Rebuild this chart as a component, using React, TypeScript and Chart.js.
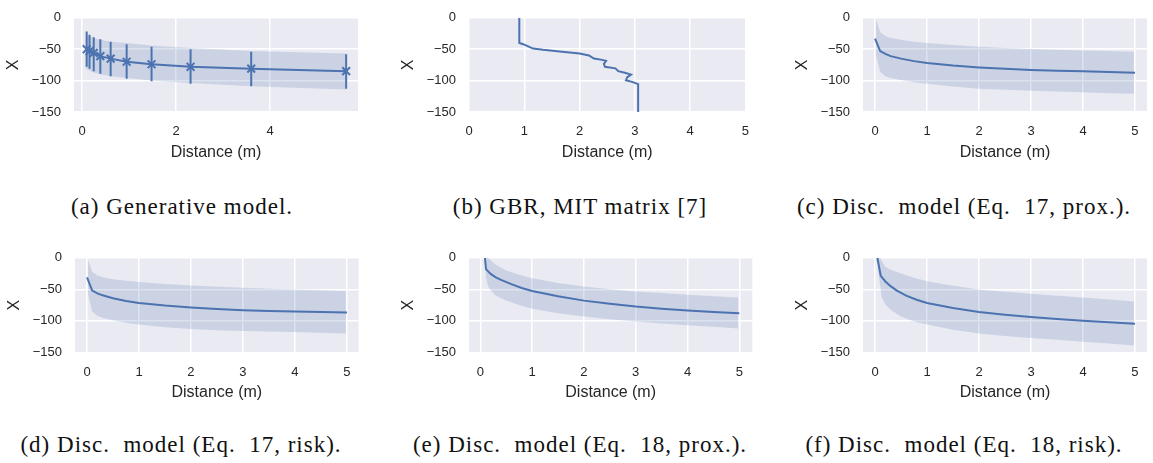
import React, { useEffect, useRef } from 'react';
import { Chart, registerables } from 'chart.js';

Chart.register(...registerables);

// ---------------- data ----------------
const yTickValues = [0, -50, -100, -150];
const xTicksA = [0, 2, 4];
const xTicks05 = [0, 1, 2, 3, 4, 5];

// (a) Generative model
const aX = [0.1, 0.16, 0.25, 0.39, 0.61, 0.95, 1.48, 2.31, 3.6, 5.62];
const aMean = [-50, -53, -56, -61, -65, -70, -74, -78, -81, -85];
const aErrLow = [-78, -81, -85, -89, -93, -97, -101, -105, -109, -113];
const aErrHigh = [-22, -27, -31, -34, -38, -42, -46, -50, -54, -58];
const aBandX = [0.07, 0.1, 0.16, 0.25, 0.39, 0.61, 0.95, 1.48, 2.31, 3.6, 5.62];
const aBandHigh = [-24, -26, -29, -32, -35, -38, -40, -44, -48, -53, -57];
const aBandLow = [-79, -81, -84, -87, -90, -93, -96, -100, -104, -109, -114];

// (b) GBR, MIT matrix
const bX = [0.91, 0.91, 0.98, 1.16, 1.34, 1.64, 2.0, 2.17, 2.26, 2.41, 2.48, 2.44, 2.46, 2.65, 2.7, 2.82, 2.93, 2.86, 2.84, 2.95, 3.06, 3.06];
const bY = [0, -40, -42, -49, -51, -53.5, -56.7, -60, -64.8, -67, -68.6, -73.3, -78, -80.5, -85, -87.6, -90.5, -94.8, -99.5, -102, -105.7, -150];

// (c) Disc. model (Eq. 17, prox.)
const cX = [0, 0.1, 0.2, 0.3, 0.5, 0.75, 1, 1.5, 2, 2.5, 3, 3.5, 4, 4.5, 5];
const cMean = [-33, -53, -57.5, -61, -65, -69, -72, -76, -79, -81.2, -83, -84.2, -85.3, -86.5, -87.5];
const cBandX = [0.02, 0.1, 0.2, 0.3, 0.5, 0.75, 1, 1.5, 2, 2.5, 3, 3.5, 4, 4.5, 4.98];
const cBandHigh = [-2, -23, -29, -32, -35, -38, -40, -43.5, -46, -48, -49.5, -51, -52, -53, -54];
const cBandLow = [-60, -86, -93, -96, -99, -102.5, -105, -109.5, -113, -114.5, -116, -117.5, -118.6, -120, -121];

// (d) Disc. model (Eq. 17, risk)
const dX = [0, 0.1, 0.2, 0.3, 0.5, 0.75, 1, 1.5, 2, 2.5, 3, 3.5, 4, 4.5, 5];
const dMean = [-31, -52, -56.5, -59.5, -64, -68.5, -71.7, -75.8, -78.8, -81, -83, -84.2, -85, -86, -86.9];
const dBandX = [0.02, 0.1, 0.2, 0.3, 0.5, 0.75, 1, 1.5, 2, 2.5, 3, 3.5, 4, 4.5, 4.98];
const dBandHigh = [-3, -22, -28, -31, -34, -36.5, -38.4, -41.5, -44, -46, -47.5, -49, -50.3, -51.5, -52.7];
const dBandLow = [-58, -85, -92, -95, -99, -103, -105.8, -110, -113, -114.7, -116, -117, -117.7, -119, -120];

// (e) Disc. model (Eq. 18, prox.)
const eX = [0.09, 0.11, 0.2, 0.3, 0.4, 0.6, 0.8, 1, 1.5, 2, 2.5, 3, 3.5, 4, 4.5, 5];
const eMean = [0, -18, -25.5, -31, -35, -41.8, -47.8, -52.7, -61, -67.9, -73, -77.4, -80.7, -83.5, -85.8, -87.8];
const eBandX = [0.1, 0.15, 0.2, 0.3, 0.5, 0.75, 1, 1.5, 2, 2.5, 3, 3.5, 4, 4.5, 4.98];
const eBandHigh = [5, 0, -4, -11, -20, -27, -32.3, -40, -45.6, -50, -53.6, -56, -58.4, -61, -63];
const eBandLow = [-28, -45, -51, -60, -67.9, -75, -80.7, -88, -93, -97.5, -101, -104, -107, -109.5, -112];

// (f) Disc. model (Eq. 18, risk)
const fX = [0.045, 0.11, 0.2, 0.3, 0.42, 0.6, 0.8, 1, 1.5, 2, 2.5, 3, 3.5, 4, 4.5, 5];
const fMean = [0, -28.5, -37.5, -45, -52, -60, -66.5, -71.7, -79.5, -85.9, -90.3, -94, -97, -99.7, -102.2, -104.4];
const fBandX = [0.05, 0.08, 0.13, 0.2, 0.3, 0.5, 0.75, 1, 1.5, 2, 2.5, 3, 3.5, 4, 4.5, 4.98];
const fBandHigh = [10, 2, -5, -14, -19, -25, -31.5, -37, -44.5, -50.3, -54, -57, -60, -63, -66, -69.3];
const fBandLow = [-15, -32, -63, -74, -82.5, -93, -101, -105.8, -114, -120, -124, -127, -130, -133, -136, -139];

const captions = [
  '(a) Generative model.',
  '(b) GBR, MIT matrix [7]',
  '(c) Disc.  model (Eq.  17, prox.).',
  '(d) Disc.  model (Eq.  17, risk).',
  '(e) Disc.  model (Eq.  18, prox.).',
  '(f) Disc.  model (Eq.  18, risk).',
];

// ---------------- styles ----------------
const BLUE = '#4C72B0';
const BAND = 'rgba(76,114,176,0.2)';
const BG = '#EAEAF2';
const TEXT = '#262626';
const SANS = '"Liberation Sans", Arial, sans-serif';
const SERIF = '"Liberation Serif", "Times New Roman", serif';

const PAD_L = 70;
const PAD_T = 10;
const PAD_R = 12;
const AX_H = 50;

const pts = (xs: number[], ys: (number | null)[]) => xs.map((x, i) => ({ x, y: ys[i] }));

const lineDs = (xs: number[], ys: number[], extra: any = {}) => ({
  data: pts(xs, ys),
  borderColor: BLUE,
  borderWidth: 2,
  pointRadius: 0,
  fill: false,
  tension: 0,
  ...extra,
});

const bandDs = (xs: number[], hi: number[], lo: number[]) => [
  { data: pts(xs, hi), borderWidth: 0, borderColor: 'rgba(0,0,0,0)', pointRadius: 0, fill: false },
  { data: pts(xs, lo), borderWidth: 0, borderColor: 'rgba(0,0,0,0)', pointRadius: 0, fill: '-1', backgroundColor: BAND },
];

const errorBarDs = (xs: number[], lo: number[], hi: number[]) => ({
  data: xs.flatMap((x, i) => [
    { x, y: lo[i] },
    { x, y: hi[i] },
    { x, y: null },
  ]),
  borderColor: BLUE,
  borderWidth: 2,
  pointRadius: 0,
  fill: false,
  spanGaps: false,
});

type PanelDef = {
  L: number; T: number; R: number; B: number;
  xMin: number; xMax: number; xTicks: number[];
  datasets: () => any[];
  caption: string; cx: number; cy: number;
};

const panels: PanelDef[] = [
  {
    L: 74, T: 7, R: 358, B: 112, xMin: -0.17, xMax: 5.872, xTicks: xTicksA,
    datasets: () => [
      lineDs(aX, aMean, { pointRadius: 5.5, pointStyle: 'crossRot', pointBorderWidth: 2, pointBorderColor: BLUE, pointBackgroundColor: BLUE }),
      errorBarDs(aX, aErrLow, aErrHigh),
      ...bandDs(aBandX, aBandHigh, aBandLow),
    ],
    caption: captions[0], cx: 182, cy: 207,
  },
  {
    L: 468.5, T: 7, R: 748, B: 112, xMin: 0, xMax: 5, xTicks: xTicks05,
    datasets: () => [lineDs(bX, bY)],
    caption: captions[1], cx: 580, cy: 207,
  },
  {
    L: 863, T: 7, R: 1147, B: 112, xMin: -0.231, xMax: 5.231, xTicks: xTicks05,
    datasets: () => [lineDs(cX, cMean), ...bandDs(cBandX, cBandHigh, cBandLow)],
    caption: captions[2], cx: 964, cy: 207,
  },
  {
    L: 74.7, T: 247.3, R: 358.3, B: 352.7, xMin: -0.231, xMax: 5.224, xTicks: xTicks05,
    datasets: () => [lineDs(dX, dMean), ...bandDs(dBandX, dBandHigh, dBandLow)],
    caption: captions[3], cx: 181, cy: 445,
  },
  {
    L: 469, T: 247.3, R: 752.3, B: 352.7, xMin: -0.218, xMax: 5.25, xTicks: xTicks05,
    datasets: () => [lineDs(eX, eMean), ...bandDs(eBandX, eBandHigh, eBandLow)],
    caption: captions[4], cx: 580, cy: 445,
  },
  {
    L: 863, T: 247.3, R: 1147, B: 352.7, xMin: -0.231, xMax: 5.231, xTicks: xTicks05,
    datasets: () => [lineDs(fX, fMean), ...bandDs(fBandX, fBandHigh, fBandLow)],
    caption: captions[5], cx: 964, cy: 445,
  },
];

const bgPlugin = {
  id: 'plotBg',
  beforeDraw(chart: any) {
    const { ctx, chartArea: a } = chart;
    ctx.save();
    ctx.fillStyle = BG;
    ctx.fillRect(a.left, a.top, a.right - a.left, a.bottom - a.top);
    ctx.restore();
  },
};

const fmt = (v: number | string) => String(v).replace('-', '\u2212');

function Panel({ p }: { p: PanelDef }) {
  const ref = useRef<HTMLCanvasElement | null>(null);
  const W = Math.round(PAD_L + (p.R - p.L) + PAD_R);
  const H = Math.round(PAD_T + (p.B - p.T) + AX_H);
  useEffect(() => {
    if (!ref.current) return;
    const chart = new Chart(ref.current, {
      type: 'line',
      data: { datasets: p.datasets() },
      plugins: [bgPlugin],
      options: {
        animation: false,
        responsive: false,
        events: [],
        layout: { padding: { left: 0, top: PAD_T, right: W - PAD_L - (p.R - p.L), bottom: H - PAD_T - (p.B - p.T) - AX_H } },
        plugins: { legend: { display: false }, tooltip: { enabled: false } },
        scales: {
          x: {
            type: 'linear',
            min: p.xMin,
            max: p.xMax,
            afterFit: (s: any) => { s.height = AX_H; },
            afterBuildTicks: (s: any) => { s.ticks = p.xTicks.map((v) => ({ value: v })); },
            grid: { color: '#ffffff', lineWidth: 1.5, drawTicks: false },
            border: { display: false },
            ticks: { padding: 12, color: TEXT, font: { family: SANS, size: 13 }, callback: fmt, maxRotation: 0 },
            title: { display: true, text: 'Distance (m)', color: TEXT, font: { family: SANS, size: 16 }, padding: 0 },
          },
          y: {
            type: 'linear',
            min: -150,
            max: 0,
            afterFit: (s: any) => { s.width = PAD_L; },
            afterBuildTicks: (s: any) => { s.ticks = yTickValues.map((v) => ({ value: v })); },
            grid: { color: '#ffffff', lineWidth: 1.5, drawTicks: false },
            border: { display: false },
            ticks: { padding: 13, color: TEXT, font: { family: SANS, size: 13 }, callback: fmt },
            title: { display: true, text: 'X', color: TEXT, font: { family: SANS, size: 16 }, padding: 0 },
          },
        },
      } as any,
    });
    return () => chart.destroy();
  }, []);
  return (
    <>
      <canvas
        ref={ref}
        width={W}
        height={H}
        style={{ position: 'absolute', left: p.L - PAD_L, top: p.T - PAD_T, width: W, height: H }}
      />
      <div
        style={{
          position: 'absolute',
          left: p.cx,
          top: p.cy - 12,
          transform: 'translateX(-50%)',
          fontFamily: SERIF,
          fontSize: 23,
          lineHeight: '24px',
          letterSpacing: '1px',
          whiteSpace: 'pre',
          color: '#111',
        }}
      >
        {p.caption}
      </div>
    </>
  );
}

export default function App() {
  return (
    <div style={{ position: 'absolute', left: 0, top: 0, width: 1153, height: 463, background: '#fff', overflow: 'hidden' }}>
      {panels.map((p, i) => (
        <Panel key={i} p={p} />
      ))}
    </div>
  );
}
